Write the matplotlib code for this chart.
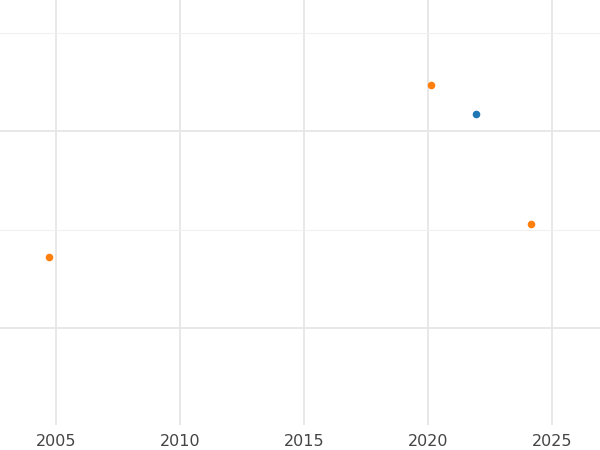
import matplotlib
matplotlib.use("Agg")
import matplotlib.pyplot as plt
from matplotlib.ticker import MultipleLocator

orange_x = [2004.72, 2020.12, 2024.15]
orange_y = [0.72, 2.47, 1.06]
blue_x = [2021.94]
blue_y = [2.17]
xticks = [2005, 2010, 2015, 2020, 2025]

fig = plt.figure(figsize=(6, 4.5), dpi=100)
ax = fig.add_axes([0, 0.055, 1, 0.945])
ax.scatter(orange_x, orange_y, color="#ff7f0e", s=30, zorder=3, linewidths=0)
ax.scatter(blue_x, blue_y, color="#1f77b4", s=30, zorder=3, linewidths=0)
ax.set_xlim(2002.74, 2026.93)
ax.set_ylim(-0.985, 3.33)
ax.set_xticks(xticks)
ax.set_yticks([0, 2])
ax.yaxis.set_minor_locator(MultipleLocator(1))
ax.set_yticklabels([])
ax.grid(True, which="major", color="#e6e6e6", linewidth=1.3)
ax.grid(True, which="minor", axis="y", color="#f0f0f0", linewidth=0.8)
ax.set_axisbelow(True)
ax.tick_params(which="both", length=0, labelsize=11.5, labelcolor="#444444", pad=6)
for s in ax.spines.values():
    s.set_visible(False)
fig.savefig("out.png", dpi=100)
